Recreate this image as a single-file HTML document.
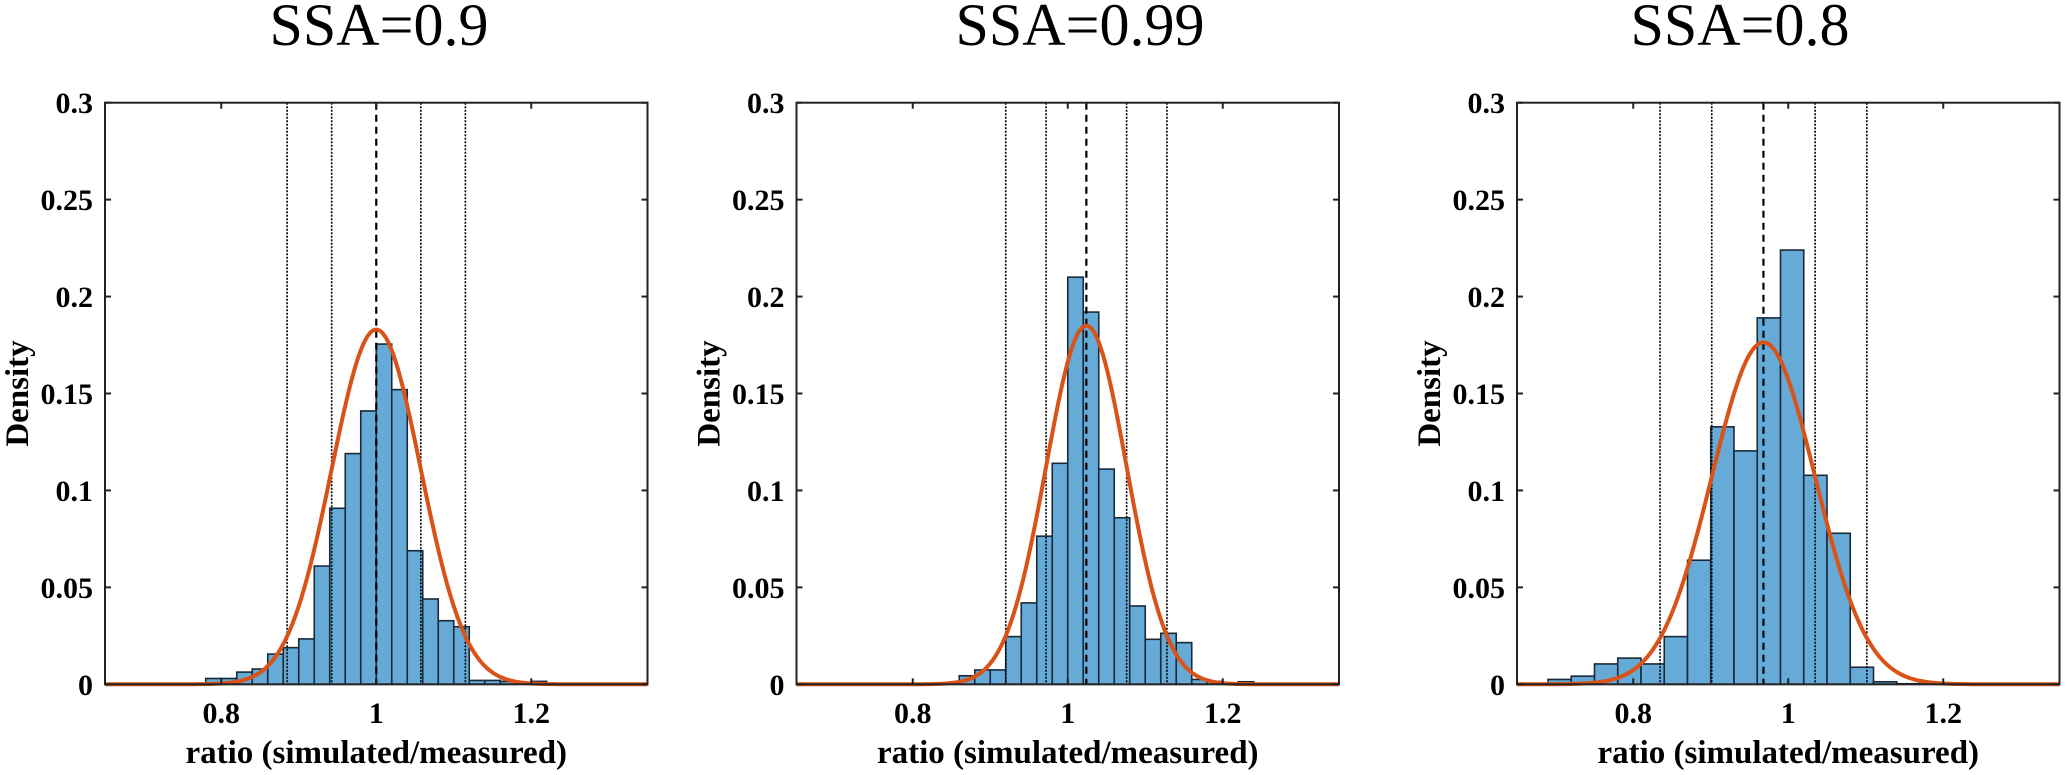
<!DOCTYPE html>
<html><head><meta charset="utf-8">
<style>
html,body{margin:0;padding:0;background:#fff;}
svg{display:block;}
text{font-family:"Liberation Serif","Times New Roman",serif;}
</style></head>
<body>
<svg id="chart" width="2066" height="775" viewBox="0 0 2066 775" xmlns="http://www.w3.org/2000/svg"></svg>
<script>
// ---- data ----
const panelTitles = ["SSA=0.9", "SSA=0.99", "SSA=0.8"];
const xTicks = [0.8, 1, 1.2];
const xTickLabels = ["0.8", "1", "1.2"];
const yTicks = [0, 0.05, 0.1, 0.15, 0.2, 0.25, 0.3];
const yTickLabels = ["0", "0.05", "0.1", "0.15", "0.2", "0.25", "0.3"];

const binStart1 = 0.78, binWidth1 = 0.02;
const density1 = [0.003,0.003,0.0063,0.0079,0.0156,0.0189,0.0234,0.061,0.0908,0.119,0.141,0.1755,0.152,0.0689,0.044,0.0328,0.0297,0.002,0.002,0.0015,0,0.0015];
const fit1 = {mu:1.0, sigma:0.0575, peak:0.183};

const binStart2 = 0.86, binWidth2 = 0.02;
const density2 = [0.0044,0.0074,0.0074,0.0246,0.042,0.0764,0.114,0.210,0.192,0.111,0.0859,0.0404,0.0232,0.0263,0.0215,0.0025,0.0015,0,0.0013];
const fit2 = {mu:1.024, sigma:0.052, peak:0.185};

const binStart3 = 0.69, binWidth3 = 0.03;
const density3 = [0.0025,0.0042,0.0105,0.0135,0.0105,0.0246,0.064,0.1328,0.1204,0.189,0.224,0.1078,0.0779,0.0088,0.0013,0.0003,0.001];
const fit3 = {mu:0.968, sigma:0.0667, peak:0.1764};

// ---- layout ----
const NS = "http://www.w3.org/2000/svg";
const svg = document.getElementById("chart");
const layouts = [
  {left:105, titleX:379},
  {left:796.5, titleX:1080},
  {left:1517, titleX:1740}
];
const W = 542.5, TOP = 102.7, BOTTOM = 684.3;
const XMIN = 0.65, XMAX = 1.35, YMAX = 0.3;

function mk(tag, attrs, parent){
  const e = document.createElementNS(NS, tag);
  for (const k in attrs) e.setAttribute(k, attrs[k]);
  (parent||svg).appendChild(e);
  return e;
}

const panels = [
  {start:binStart1, width:binWidth1, dens:density1, fit:fit1},
  {start:binStart2, width:binWidth2, dens:density2, fit:fit2},
  {start:binStart3, width:binWidth3, dens:density3, fit:fit3}
];

panels.forEach((p, i) => {
  const L = layouts[i].left;
  const xs = v => L + (v - XMIN) / (XMAX - XMIN) * W;
  const ys = v => BOTTOM - v / YMAX * (BOTTOM - TOP);
  const g = mk("g", {});
  
  

  const title = mk("text", {x:layouts[i].titleX, y:45, "font-size":60, "text-anchor":"middle"}, g);
  
  
  title.textContent = panelTitles[i];

  // bars
  p.dens.forEach((d, j) => {
    if (d <= 0) return;
    const x0 = p.start + j * p.width;
    const r = mk("rect", {x:xs(x0), y:ys(d), width:xs(x0+p.width)-xs(x0), height:ys(0)-ys(d),
      fill:"#66aad7", stroke:"#1a2a38", "stroke-width":1.6}, g);
    
    
  });

  // vertical reference lines
  const f = p.fit;
  [-2,-1,1,2].forEach(k => {
    const ln = mk("line", {x1:xs(f.mu+k*f.sigma), x2:xs(f.mu+k*f.sigma), y1:TOP, y2:BOTTOM,
      stroke:"#000", "stroke-width":1.6, "stroke-dasharray":"2,1.5"}, g);
    
    
  });
  const ml = mk("line", {x1:xs(f.mu), x2:xs(f.mu), y1:TOP, y2:BOTTOM, stroke:"#000", "stroke-width":2.2, "stroke-dasharray":"7,5"}, g);
  
  

  // fitted curve
  let d = "";
  for (let s = 0; s <= 280; s++) {
    const xv = XMIN + (XMAX - XMIN) * s / 280;
    const yv = f.peak * Math.exp(-Math.pow(xv - f.mu, 2) / (2 * f.sigma * f.sigma));
    d += (s ? "L" : "M") + xs(xv).toFixed(2) + "," + ys(yv).toFixed(2);
  }
  const curve = mk("path", {d:d, fill:"none", stroke:"#d95319", "stroke-width":4}, g);
  
  

  // axes box
  const box = mk("rect", {x:L, y:TOP, width:W, height:BOTTOM-TOP, fill:"none", stroke:"#222", "stroke-width":2}, g);
  
  

  xTicks.forEach((t, j) => {
    const X = xs(t);
    mk("line", {x1:X, x2:X, y1:BOTTOM, y2:BOTTOM-6, stroke:"#222", "stroke-width":2}, g);
    mk("line", {x1:X, x2:X, y1:TOP, y2:TOP+6, stroke:"#222", "stroke-width":2}, g);
    const tl = mk("text", {x:X, y:723, "font-size":30, "font-weight":"bold", "text-anchor":"middle"}, g);
    
    
    tl.textContent = xTickLabels[j];
  });
  yTicks.forEach((t, j) => {
    const Y = ys(t);
    mk("line", {x1:L, x2:L+6, y1:Y, y2:Y, stroke:"#222", "stroke-width":2}, g);
    mk("line", {x1:L+W, x2:L+W-6, y1:Y, y2:Y, stroke:"#222", "stroke-width":2}, g);
    const tl = mk("text", {x:L-12, y:Y+10.5, "font-size":30, "font-weight":"bold", "text-anchor":"end"}, g);
    
    
    tl.textContent = yTickLabels[j];
  });

  const xl = mk("text", {x:L+W/2, y:763, "font-size":33, "font-weight":"bold", "text-anchor":"middle"}, g);
  
  
  xl.textContent = "ratio (simulated/measured)";

  const cy = (TOP + BOTTOM) / 2;
  const yl = mk("text", {x:L-77, y:cy, "font-size":33, "font-weight":"bold", "text-anchor":"middle",
    transform:"rotate(-90 " + (L-77) + " " + cy + ")"}, g);
  
  
  yl.textContent = "Density";
});
</script>
</body></html>
